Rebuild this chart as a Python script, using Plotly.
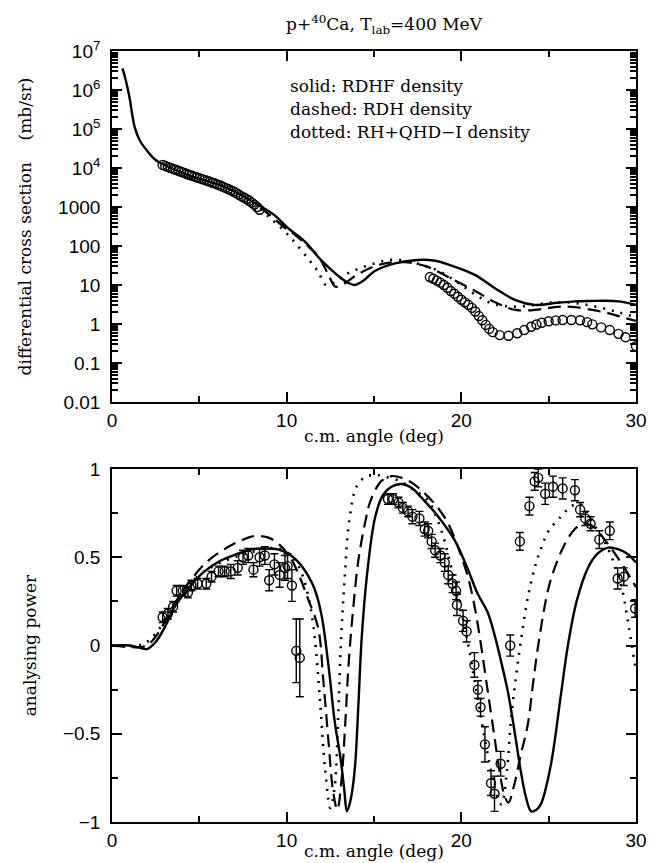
import plotly.graph_objects as go

# ---------------- top panel: differential cross section ----------------
xs_solid_x = [0.6, 0.8, 1.0, 1.3, 1.6, 2.0, 2.5, 3.0, 3.5, 4.35, 5.0, 6.0, 7.0, 8.0, 8.5, 9.3, 10.07,
              11.0, 12.0, 12.9, 13.5, 13.9, 14.4, 15.05, 16.2, 17.5, 18.5, 19.4, 20.8, 21.9, 23.1,
              24.2, 25.5, 26.5, 27.4, 28.3, 29.0, 29.5, 30.0]
xs_solid_y = [3.6e6, 1.7e6, 6.5e5, 1.1e5, 5.0e4, 2.8e4, 1.6e4, 1.2e4, 9.5e3, 6.6e3, 5.3e3, 3.9e3, 2.5e3,
              1.4e3, 1.05e3, 620, 290, 135, 42, 18, 11.5, 10, 13, 23, 36, 44, 42, 32, 18, 8.4, 4.1,
              3.1, 3.5, 3.8, 3.9, 3.95, 3.8, 3.5, 3.1]
xs_dash_x = [8.5, 9.0, 10.0, 10.5, 11.0, 11.8, 12.4, 12.8, 13.3, 14.0, 15.0, 16.0, 17.0, 18.0, 18.5,
             19.5, 20.8, 22.0, 23.1, 24.2, 25.0, 25.7, 26.5, 27.5, 28.4, 29.2, 30.0]
xs_dash_y = [950, 640, 270, 190, 120, 55, 18, 9, 11, 18, 30, 38, 38, 30, 24, 14, 7, 3.5, 2.3, 2.3,
             2.6, 2.8, 2.7, 2.3, 1.9, 1.5, 1.2]
xs_dot_x = [8.5, 9.0, 9.5, 10.25, 11.2, 11.8, 12.25, 12.8, 13.5, 14.2, 15.05, 15.9, 16.8, 17.8, 18.8,
            20.0, 21.0, 21.9, 23.0, 24.0, 25.0, 26.0, 27.0, 28.0, 29.0, 30.0]
xs_dot_y = [900, 550, 350, 160, 49, 22, 10, 12, 20, 27, 36, 44, 42, 32, 22, 10, 5, 3.2, 2.8, 3.0,
            3.5, 3.6, 3.2, 2.6, 2.0, 1.5]
# shared start of the three curves (identical below 8.5 deg)
xs_common_x = [a for a in xs_solid_x if a <= 8.5]
xs_common_y = xs_solid_y[:len(xs_common_x)]

xs_data1_x = [2.9, 3.05, 3.2, 3.35, 3.5, 3.65, 3.8, 3.95, 4.1, 4.25, 4.4, 4.55, 4.7, 4.85, 5.0, 5.15,
              5.3, 5.45, 5.6, 5.75, 5.9, 6.05, 6.2, 6.35, 6.5, 6.65, 6.8, 6.95, 7.1, 7.25, 7.4, 7.55,
              7.7, 7.85, 8.0, 8.15, 8.3, 8.45]
xs_data1_y = [12000, 11300, 10700, 10000, 9500, 9000, 8500, 8000, 7600, 7100, 6700, 6400, 6100, 5800,
              5500, 5200, 4950, 4700, 4450, 4200, 4000, 3750, 3550, 3300, 3100, 2900, 2700, 2500,
              2300, 2100, 1900, 1750, 1600, 1450, 1300, 1150, 1000, 850]
xs_data2_x = [18.2, 18.4, 18.6, 18.8, 19.0, 19.2, 19.4, 19.6, 19.8, 20.0, 20.2, 20.4, 20.6, 20.8, 21.0,
              21.2, 21.4, 21.6, 21.8, 22.2, 22.7, 23.2, 23.6, 24.0, 24.3, 24.6, 25.0, 25.4, 25.8,
              26.3, 26.8, 27.2, 27.5, 28.0, 28.5, 29.0, 29.4, 30.0]
xs_data2_y = [16, 14.5, 13, 11.5, 10, 8.5, 7, 6, 5, 4.2, 3.6, 3.1, 2.6, 2.1, 1.6, 1.25, 0.95, 0.75,
              0.62, 0.52, 0.5, 0.58, 0.7, 0.85, 0.97, 1.08, 1.18, 1.24, 1.27, 1.27, 1.25, 1.12, 0.98,
              0.82, 0.7, 0.56, 0.46, 0.27]

xs_tick_vals = [0.01, 0.1, 1, 10, 100, 1000, 1e4, 1e5, 1e6, 1e7]
xs_tick_text = ["0.01", "0.1", "1", "10", "100", "1000", "10<sup>4</sup>", "10<sup>5</sup>",
                "10<sup>6</sup>", "10<sup>7</sup>"]

# ---------------- bottom panel: analysing power ----------------
ap_solid_x = [0, 1.0, 1.5, 2.0, 2.5, 3.0, 3.6, 4.5, 5.3, 6.2, 7.2, 8.0, 8.75, 9.5, 10.1, 10.7, 11.2,
              11.6, 12.0, 12.4, 12.75, 13.1, 13.3, 13.45, 13.65, 13.9, 14.1, 14.3, 14.6, 15.05, 15.5,
              16.0, 16.6, 17.2, 17.7, 18.6, 19.6, 20.3, 20.95, 21.5, 21.9, 22.3, 22.7, 23.1, 23.4,
              23.7, 24.0, 24.3, 24.55, 25.1, 25.7, 26.1, 26.6, 27.25, 27.8, 28.4, 29.0, 29.5, 30.0]
ap_solid_y = [0, 0, -0.01, -0.02, 0.02, 0.1, 0.22, 0.34, 0.42, 0.48, 0.52, 0.545, 0.55, 0.545, 0.52,
              0.47, 0.40, 0.32, 0.17, -0.12, -0.43, -0.65, -0.82, -0.94, -0.88, -0.7, -0.35, 0.05,
              0.4, 0.72, 0.85, 0.9, 0.915, 0.89, 0.84, 0.74, 0.6, 0.45, 0.29, 0.19, 0.06, -0.1,
              -0.28, -0.52, -0.71, -0.86, -0.94, -0.93, -0.9, -0.69, -0.28, 0.0, 0.25, 0.44, 0.52,
              0.555, 0.545, 0.52, 0.47]
ap_dash_x = [0, 1.5, 2.0, 2.5, 3.0, 3.6, 4.5, 5.5, 6.5, 7.5, 8.2, 9.0, 9.6, 10.2, 10.7, 11.2, 11.8,
             12.1, 12.4, 12.65, 12.9, 13.15, 13.35, 13.55, 13.8, 14.1, 14.5, 14.8, 15.4, 16.0, 16.6,
             17.2, 17.7, 18.5, 19.2, 19.8, 20.4, 20.8, 21.1, 21.5, 21.9, 22.2, 22.5, 22.7, 23.0,
             23.4, 23.8, 24.1, 24.4, 25.0, 25.5, 25.9, 26.5, 27.0, 27.6, 28.2, 28.8, 29.4, 30.0]
ap_dash_y = [0, -0.01, 0.0, 0.05, 0.13, 0.24, 0.37, 0.48, 0.55, 0.6, 0.62, 0.61, 0.57, 0.5, 0.4,
             0.27, 0.1, -0.2, -0.55, -0.82, -0.93, -0.75, -0.45, -0.1, 0.2, 0.48, 0.7, 0.82, 0.93,
             0.96, 0.95, 0.92, 0.88, 0.8, 0.7, 0.56, 0.38, 0.2, 0.02, -0.25, -0.52, -0.72, -0.86,
             -0.89, -0.8, -0.62, -0.45, -0.22, 0.0, 0.33, 0.48, 0.57, 0.66, 0.69, 0.67, 0.6, 0.52,
             0.43, 0.33]
ap_dot_x = [0, 1.5, 2.0, 2.6, 3.2, 4.0, 5.0, 6.0, 7.0, 8.0, 8.8, 9.5, 10.0, 10.5, 10.9, 11.3, 11.6,
            11.9, 12.2, 12.5, 12.75, 12.95, 13.1, 13.3, 13.6, 14.0, 14.5, 15.0, 15.5, 16.5, 17.3,
            18.1, 18.6, 19.05, 19.4, 19.8, 20.1, 20.4, 20.8, 21.2, 21.6, 21.9, 22.3, 22.6, 22.85,
            23.1, 23.4, 23.8, 24.2, 24.6, 25.0, 25.7, 26.3, 26.8, 27.3, 27.8, 28.3, 28.8, 29.2,
            29.6, 30.0]
ap_dot_y = [0, 0.0, 0.02, 0.08, 0.18, 0.3, 0.4, 0.46, 0.5, 0.53, 0.55, 0.55, 0.53, 0.48, 0.4, 0.25,
            0.05, -0.3, -0.7, -0.92, -0.8, -0.4, 0.0, 0.35, 0.72, 0.9, 0.955, 0.965, 0.96, 0.93, 0.88,
            0.82, 0.72, 0.59, 0.45, 0.31, 0.15, 0.0, -0.22, -0.45, -0.66, -0.8, -0.9, -0.72, -0.41,
            -0.2, 0.02, 0.27, 0.44, 0.56, 0.65, 0.73, 0.79, 0.8, 0.74, 0.65, 0.57, 0.45, 0.32, 0.1,
            -0.15]

ap_data_x = [2.9, 3.2, 3.5, 3.7, 4.05, 4.35, 4.55, 4.9, 5.4, 5.7, 6.1, 6.45, 6.8, 7.2, 7.5, 7.8, 8.1,
             8.45, 8.75, 9.0, 9.3, 9.6, 9.9, 10.05, 10.3, 10.55, 10.75,
             15.8, 16.1, 16.4, 16.65, 16.95, 17.2, 17.6, 17.9, 18.1, 18.3, 18.5, 18.8, 19.05, 19.25,
             19.5, 19.7, 19.75, 20.1, 20.3, 20.75, 20.95, 21.1, 21.35, 21.7, 21.9, 22.25, 22.8,
             23.35, 23.9, 24.2, 24.4, 24.8, 25.25, 25.8, 26.5, 26.8, 27.1, 27.4, 27.9, 28.5, 28.95,
             29.3, 29.95]
ap_data_y = [0.16, 0.18, 0.22, 0.31, 0.31, 0.30, 0.34, 0.35, 0.35, 0.39, 0.42, 0.42, 0.42, 0.44, 0.50,
             0.51, 0.43, 0.50, 0.51, 0.37, 0.46, 0.40, 0.44, 0.45, 0.34, -0.03, -0.07,
             0.83, 0.83, 0.81, 0.78, 0.76, 0.73, 0.72, 0.66, 0.65, 0.59, 0.54, 0.51, 0.47, 0.40,
             0.35, 0.31, 0.23, 0.14, 0.08, -0.11, -0.25, -0.35, -0.56, -0.78, -0.84, -0.67, 0.0,
             0.59, 0.79, 0.93, 0.95, 0.86, 0.90, 0.89, 0.88, 0.77, 0.72, 0.69, 0.60, 0.65, 0.38,
             0.39, 0.21]
ap_data_err = [0.03, 0.03, 0.03, 0.03, 0.03, 0.03, 0.03, 0.03, 0.03, 0.03, 0.03, 0.03, 0.04, 0.04,
               0.04, 0.04, 0.04, 0.05, 0.05, 0.06, 0.06, 0.07, 0.07, 0.07, 0.09, 0.18, 0.22,
               0.03, 0.03, 0.03, 0.03, 0.03, 0.04, 0.04, 0.04, 0.04, 0.04, 0.04, 0.04, 0.05, 0.05,
               0.05, 0.05, 0.06, 0.06, 0.06, 0.07, 0.05, 0.05, 0.1, 0.07, 0.1, 0.07, 0.06,
               0.05, 0.05, 0.05, 0.05, 0.06, 0.06, 0.06, 0.06, 0.04, 0.04, 0.04, 0.05, 0.05, 0.06,
               0.05, 0.05]

ap_tick_vals = [-1, -0.5, 0, 0.5, 1]
ap_tick_text = ["\u22121", "\u22120.5", "0", "0.5", "1"]

legend_lines = ["solid: RDHF density", "dashed: RDH density", "dotted: RH+QHD\u2212I density"]

# ---------------- figure ----------------
SERIF = "DejaVu Serif"
SANS = "Liberation Sans"
K = "black"
solid = dict(color=K, width=2.4)
dashed = dict(color=K, width=2.2, dash="13px,7px")
dotted = dict(color=K, width=2.6, dash="2px,7px")

fig = go.Figure()

# top panel
fig.add_trace(go.Scatter(x=xs_common_x, y=xs_common_y, mode="lines", line=solid, line_shape="spline",
                         xaxis="x", yaxis="y", showlegend=False))
fig.add_trace(go.Scatter(x=[xs_common_x[-1]] + [a for a in xs_solid_x if a > 8.5],
                         y=[xs_common_y[-1]] + xs_solid_y[len(xs_common_x):],
                         mode="lines", line=solid, line_shape="spline", xaxis="x", yaxis="y",
                         showlegend=False))
fig.add_trace(go.Scatter(x=xs_dash_x, y=xs_dash_y, mode="lines", line=dashed, line_shape="spline",
                         xaxis="x", yaxis="y", showlegend=False))
fig.add_trace(go.Scatter(x=xs_dot_x, y=xs_dot_y, mode="lines", line=dotted, line_shape="spline",
                         xaxis="x", yaxis="y", showlegend=False))
mk = dict(symbol="circle-open", size=9, color=K, line=dict(width=1.4, color=K))
fig.add_trace(go.Scatter(x=xs_data1_x + xs_data2_x, y=xs_data1_y + xs_data2_y, mode="markers",
                         marker=mk, xaxis="x", yaxis="y", showlegend=False))

# bottom panel
fig.add_trace(go.Scatter(x=ap_solid_x, y=ap_solid_y, mode="lines", line=solid, line_shape="spline",
                         xaxis="x2", yaxis="y2", showlegend=False))
fig.add_trace(go.Scatter(x=ap_dash_x, y=ap_dash_y, mode="lines", line=dashed, line_shape="spline",
                         xaxis="x2", yaxis="y2", showlegend=False))
fig.add_trace(go.Scatter(x=ap_dot_x, y=ap_dot_y, mode="lines", line=dotted, line_shape="spline",
                         xaxis="x2", yaxis="y2", showlegend=False))
fig.add_trace(go.Scatter(x=ap_data_x, y=ap_data_y, mode="markers", marker=mk,
                         error_y=dict(type="data", array=ap_data_err, color=K, thickness=1.4, width=4),
                         xaxis="x2", yaxis="y2", showlegend=False))

TICKFONT = dict(family=SANS, size=19, color=K)
TXTFONT = dict(family=SERIF, size=17, color=K)

# positions of the minor ticks of the logarithmic axis (2..9 in every decade)
minor_log = [m * 10 ** k for k in range(-2, 7) for m in range(2, 10)]

axis_common = dict(showline=True, linecolor=K, linewidth=1.6, mirror="ticks", ticks="inside",
                   tickcolor=K, tickwidth=1.6, showgrid=False, zeroline=False, tickfont=TICKFONT)
xcommon = dict(axis_common, range=[0, 30], tickmode="array", tickvals=[0, 10, 20, 30], ticklen=10,
               minor=dict(tickmode="array", tickvals=[5, 15, 25], ticklen=6, ticks="inside",
                          tickcolor=K, tickwidth=1.5, showgrid=False))

fig.update_layout(
    width=662, height=863,
    margin=dict(l=104, r=34, t=43, b=49),
    paper_bgcolor="white", plot_bgcolor="white",
    xaxis=dict(xcommon, domain=[0, 1], anchor="y"),
    yaxis=dict(axis_common, type="log", range=[-2, 7], domain=[0.5447, 1], anchor="x",
               tickmode="array", tickvals=xs_tick_vals, ticktext=xs_tick_text, ticklen=10,
               ticklabelstandoff=6,
               title=dict(text="differential cross section\u00a0\u00a0\u00a0\u00a0(mb/sr)",
                          font=TXTFONT, standoff=22)),
    # overlay axis that only draws the small logarithmic minor ticks (both sides)
    yaxis3=dict(type="log", range=[-2, 7], overlaying="y", anchor="x", side="left",
                showline=True, linecolor=K, linewidth=1.6, mirror="ticks", ticks="inside",
                tickcolor=K, tickwidth=1.5, ticklen=6, tickmode="array", tickvals=minor_log,
                showticklabels=False, showgrid=False, zeroline=False),
    xaxis2=dict(xcommon, domain=[0, 1], anchor="y2"),
    yaxis2=dict(axis_common, range=[-1, 1], domain=[0, 0.4578], anchor="x2",
                tickmode="array", tickvals=ap_tick_vals, ticktext=ap_tick_text, ticklen=10,
                ticklabelstandoff=6,
                minor=dict(tickmode="array", tickvals=[-0.75, -0.25, 0.25, 0.75], ticklen=6,
                           ticks="inside", tickcolor=K, tickwidth=1.5, showgrid=False),
                title=dict(text="analysing power", font=TXTFONT, standoff=22)),
)
# invisible trace so that the overlay axis is drawn
fig.add_trace(go.Scatter(x=[None], y=[None], xaxis="x", yaxis="y3", showlegend=False,
                         hoverinfo="skip"))

fig.add_annotation(text="p+<sup>40</sup>Ca, T<sub>lab</sub>=400 MeV", xref="paper", yref="paper",
                   x=0.52, y=1.035, xanchor="center", yanchor="middle", showarrow=False,
                   font=TXTFONT)
# x-axis titles (placed close under the tick labels as in the original)
for ypos in [0.5006, -0.038]:
    fig.add_annotation(text="c.m. angle (deg)", xref="paper", yref="paper", x=0.5, y=ypos,
                       xanchor="center", yanchor="middle", showarrow=False, font=TXTFONT)
for i, t in enumerate(legend_lines):
    fig.add_annotation(text=t, xref="x domain", yref="y domain", x=0.336, y=0.9 - i * 0.066,
                       xanchor="left", yanchor="middle", showarrow=False, font=TXTFONT)

fig.write_html("out.html")
